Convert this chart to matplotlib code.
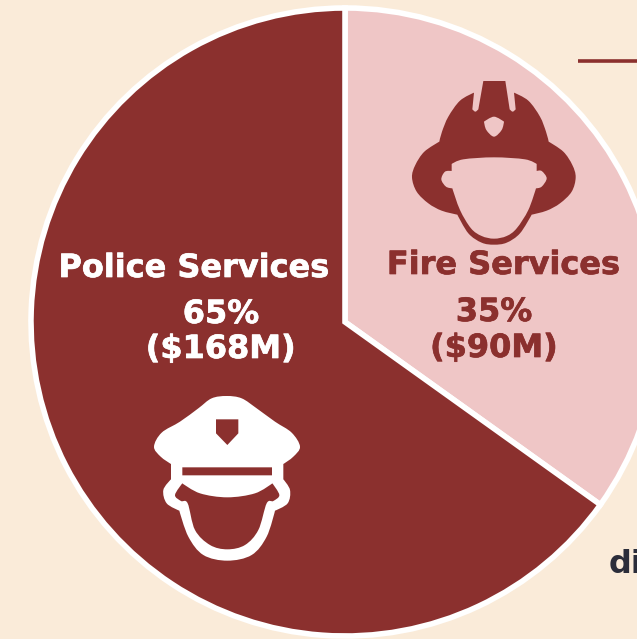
import matplotlib
matplotlib.use('Agg')
import matplotlib.pyplot as plt
import matplotlib.patheffects as pe
import numpy as np
from matplotlib.path import Path
from matplotlib.patches import PathPatch

categories = ['Fire Services', 'Police Services']
funding = [90, 168]
shares = ['35%', '65%']
amounts = ['($90M)', '($168M)']

bg = '#FAEBD9'
maroon = '#8B302E'
pink = '#EFC6C6'


# icons are traced off the 3x zoom, so shift them back to image pixels
# points with a third value are sharp corners, the rest get smoothed
def icon(ax, pts, off, color):
    n = len(pts)
    xy = np.array([p[:2] for p in pts], dtype=float) / 3 + off
    verts = [xy[0]]
    codes = [Path.MOVETO]
    for i in range(n):
        p0, p1, p2, p3 = xy[i - 1], xy[i], xy[(i + 1) % n], xy[(i + 2) % n]
        c1 = p1 if len(pts[i]) > 2 else p1 + (p2 - p0) / 6
        c2 = p2 if len(pts[(i + 1) % n]) > 2 else p2 - (p3 - p1) / 6
        verts += [c1, c2, p2]
        codes += [Path.CURVE4] * 3
    ax.add_patch(PathPatch(Path(verts, codes), fc=color, ec='none', zorder=3))


def label(ax, x, y, s, color):
    t = ax.text(x, y, s, color=color, fontsize=23, fontweight='bold', ha='center', va='baseline', zorder=4)
    t.set_path_effects([pe.withStroke(linewidth=0.5, foreground=color)])


fig = plt.figure(figsize=(6.37, 6.39), dpi=100, facecolor=bg)
ax = fig.add_axes([0, 0, 1, 1])

wedges, _ = ax.pie(funding, colors=[pink, maroon], startangle=-90, counterclock=True,
                   center=(345, 322), radius=314, frame=True,
                   wedgeprops={'edgecolor': 'white', 'linewidth': 4})
ax.set_xlim(0, 637)
ax.set_ylim(639, 0)
ax.set_aspect('auto')
ax.axis('off')

# fire helmet
fire = (400, 70)
icon(ax, [(250, 33, 1), (316, 33, 1), (329, 118, 1), (338, 125), (347, 118, 1), (342, 68, 1),
          (385, 92), (420, 140), (438, 185), (446, 215, 1),
          (490, 245), (517, 285), (527, 322), (515, 365), (480, 400), (440, 422), (395, 434, 1),
          (360, 490), (320, 518), (282, 524), (245, 518), (205, 490), (172, 434, 1),
          (125, 422), (85, 400), (50, 365), (36, 322), (46, 285), (73, 245), (118, 215, 1),
          (126, 185), (145, 140), (180, 92), (222, 68, 1), (217, 118, 1), (226, 125), (235, 118, 1)],
     fire, maroon)
icon(ax, [(155, 282, 1), (190, 268), (282, 262), (375, 268), (410, 282, 1), (410, 303, 1),
          (425, 303), (440, 325), (425, 350), (408, 355, 1),
          (385, 420), (350, 475), (320, 498), (282, 506), (245, 498), (213, 475), (180, 420), (157, 355, 1),
          (138, 350), (124, 328), (135, 305), (155, 303, 1)], fire, pink)
icon(ax, [(282, 140), (312, 155, 1), (305, 180), (282, 200), (259, 180), (252, 155, 1)], fire, pink)

# police cap
police = (145, 390)
icon(ax, [(245, 18), (290, 25), (335, 55), (390, 95), (440, 128), (465, 170), (445, 200), (415, 222, 1),
          (415, 268, 1), (435, 300), (428, 340), (390, 362, 1), (365, 440), (320, 495), (247, 512),
          (175, 495), (130, 440), (103, 362, 1), (65, 340), (55, 300), (78, 268, 1), (78, 222, 1),
          (47, 200), (27, 170), (50, 128), (105, 95), (160, 55), (200, 25)], police, 'white')
icon(ax, [(112, 280, 1), (165, 310), (247, 322), (330, 310), (382, 280, 1), (403, 315), (385, 333),
          (365, 340), (340, 420), (300, 465), (247, 478), (195, 465), (150, 420), (128, 340),
          (108, 333), (90, 315)], police, maroon)
icon(ax, [(112, 232, 1), (381, 232, 1), (381, 256, 1), (112, 256, 1)], police, maroon)
icon(ax, [(213, 88, 1), (280, 88, 1), (280, 130, 1), (247, 165, 1), (213, 130, 1)], police, maroon)

label(ax, 503.5, 274, categories[0], maroon)
label(ax, 494, 321, shares[0], maroon)
label(ax, 494, 357, amounts[0], maroon)
label(ax, 194, 277, categories[1], 'white')
label(ax, 221, 323, shares[1], 'white')
label(ax, 221, 358, amounts[1], 'white')

# bits of the neighbouring slide that are cut off at the right edge
ax.plot([578, 637], [61, 61], color=maroon, lw=2.6, solid_capstyle='butt', zorder=2)
ax.text(609, 573, 'di', color='#2B2D3A', fontsize=23, fontweight='bold', ha='left', va='baseline',
        clip_on=True, zorder=2)

fig.savefig('out.png', dpi=100, facecolor=bg)
